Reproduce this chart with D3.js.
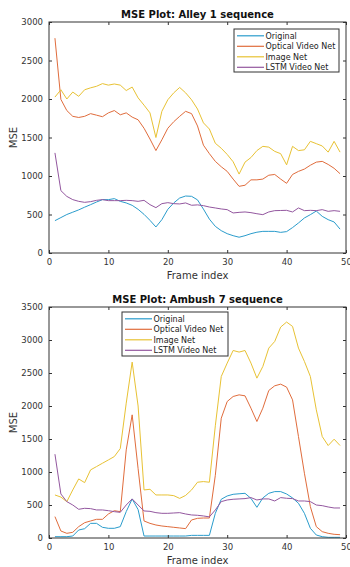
<!DOCTYPE html>
<html>
<head>
<meta charset="utf-8">
<script src="https://cdn.jsdelivr.net/npm/d3@7"></script>
<style>
  body { margin: 0; background: #fff; }
  svg { display: block; font-family: "DejaVu Sans", sans-serif; }
</style>
</head>
<body>
<div id="chart"></div>
<script>
var seriesNames = ['Original', 'Optical Video Net', 'Image Net', 'LSTM Video Net'];
var seriesColors = ['#2a9ccc', '#e06c3c', '#e8c234', '#93579f'];
var xTicks = [0, 10, 20, 30, 40, 50];

// Alley 1 sequence, frames 1..49
var alleyOriginal = [420, 460, 500, 530, 560, 595, 628, 662, 693, 693, 706, 671, 650, 619, 567, 502, 424, 338, 433, 567, 650, 714, 740, 736, 690, 570, 440, 346, 290, 251, 225, 205, 225, 251, 270, 281, 281, 281, 268, 278, 330, 390, 455, 498, 545, 476, 433, 403, 310];
var alleyOptical = [2790, 1995, 1850, 1775, 1760, 1775, 1810, 1790, 1770, 1820, 1850, 1795, 1820, 1765, 1730, 1620, 1480, 1330, 1470, 1620, 1705, 1775, 1840, 1810, 1650, 1400, 1290, 1190, 1120, 1060, 960, 866, 880, 950, 950, 960, 1010, 1020, 960, 905, 1020, 1060, 1090, 1140, 1180, 1190, 1150, 1100, 1030];
var alleyImage = [2025, 2120, 2000, 2090, 2035, 2120, 2145, 2165, 2200, 2180, 2195, 2180, 2110, 2155, 2015, 1920, 1820, 1500, 1840, 1990, 2080, 2150, 2080, 1990, 1870, 1690, 1610, 1425, 1360, 1280, 1185, 1025, 1180, 1240, 1330, 1385, 1375, 1320, 1290, 1145, 1385, 1330, 1340, 1450, 1420, 1390, 1310, 1450, 1310];
var alleyLstm = [1300, 810, 735, 693, 671, 658, 667, 684, 693, 680, 680, 680, 684, 680, 671, 684, 628, 589, 641, 654, 641, 637, 650, 620, 625, 615, 597, 585, 572, 563, 520, 528, 533, 524, 510, 498, 533, 550, 552, 554, 533, 585, 550, 554, 550, 563, 541, 550, 541];
var alleyYTicks = [0, 500, 1000, 1500, 2000, 2500, 3000];

// Ambush 7 sequence, frames 1..49
var ambushOriginal = [20, 20, 20, 30, 121, 141, 222, 222, 162, 147, 147, 172, 400, 592, 430, 30, 30, 30, 30, 30, 30, 30, 30, 40, 40, 40, 40, 374, 587, 637, 662, 670, 677, 600, 465, 607, 677, 703, 703, 667, 607, 526, 374, 147, 45, 20, 10, 10, 10];
var ambushOptical = [324, 106, 71, 86, 172, 232, 258, 283, 283, 364, 414, 399, 1335, 1866, 1050, 258, 222, 197, 182, 172, 162, 152, 142, 273, 298, 303, 303, 950, 1815, 2068, 2144, 2169, 2154, 1967, 1765, 1967, 2235, 2306, 2331, 2286, 2093, 1537, 981, 475, 172, 96, 71, 56, 50];
var ambushImage = [652, 620, 551, 728, 895, 839, 1032, 1082, 1133, 1183, 1234, 1355, 2043, 2665, 2000, 728, 738, 652, 652, 652, 642, 600, 645, 728, 845, 855, 845, 1700, 2447, 2650, 2841, 2817, 2841, 2650, 2422, 2599, 2877, 2978, 3196, 3272, 3206, 2877, 2675, 2447, 1942, 1537, 1401, 1497, 1401];
var ambushLstm = [1270, 667, 551, 500, 435, 450, 445, 425, 425, 414, 399, 389, 500, 592, 500, 410, 404, 384, 374, 374, 379, 384, 364, 349, 344, 334, 320, 425, 551, 576, 587, 592, 597, 612, 576, 592, 592, 561, 612, 602, 597, 561, 561, 551, 500, 490, 470, 455, 455];
var ambushYTicks = [0, 500, 1000, 1500, 2000, 2500, 3000, 3500];

var axisColor = '#333';

var plot1 = {
  title: 'MSE Plot: Alley 1 sequence',
  series: [alleyOriginal, alleyOptical, alleyImage, alleyLstm],
  yTicks: alleyYTicks,
  yMax: 3000,
  top: 22,
  bottom: 253,
  legend: { x: 234, y: 29, w: 105, h: 43 }
};

var plot2 = {
  title: 'MSE Plot: Ambush 7 sequence',
  series: [ambushOriginal, ambushOptical, ambushImage, ambushLstm],
  yTicks: ambushYTicks,
  yMax: 3500,
  top: 307,
  bottom: 538,
  legend: { x: 122, y: 312, w: 106, h: 44 }
};

var svg = d3.select('#chart').append('svg')
  .attr('width', 350)
  .attr('height', 567);

var left = 49, right = 346;

var MsePlot = function(config) {
  var g = svg.append('g');

  var x = d3.scaleLinear().domain([0, 50]).range([left, right]);
  var y = d3.scaleLinear().domain([0, config.yMax]).range([config.bottom, config.top]);

  var line = d3.line()
    .x(function(d, i) { return x(i + 1); })
    .y(function(d) { return y(d); });

  config.series.forEach(function(values, k) {
    g.append('path')
      .attr('d', line(values))
      .attr('fill', 'none')
      .attr('stroke', seriesColors[k])
      .attr('stroke-width', 1)
      .attr('stroke-linejoin', 'round');
  });

  // axes, MATLAB style: ticks inside on all four sides
  var styleAxis = function(sel, labels) {
    sel.select('.domain').remove();
    sel.selectAll('line').attr('stroke', axisColor);
    sel.selectAll('text')
      .attr('fill', labels ? axisColor : 'none')
      .style('font-size', '8.5px')
      .style('font-family', '"DejaVu Sans", sans-serif');
  };

  var fmt = d3.format('d');

  g.append('g')
    .attr('transform', 'translate(0,' + config.bottom + ')')
    .call(d3.axisBottom(x).tickValues(xTicks).tickFormat(fmt).tickSizeInner(-3).tickSizeOuter(0).tickPadding(6))
    .call(styleAxis, true);

  g.append('g')
    .attr('transform', 'translate(0,' + config.top + ')')
    .call(d3.axisTop(x).tickValues(xTicks).tickSizeInner(-3).tickSizeOuter(0).tickFormat(''))
    .call(styleAxis, false);

  g.append('g')
    .attr('transform', 'translate(' + left + ',0)')
    .call(d3.axisLeft(y).tickValues(config.yTicks).tickFormat(fmt).tickSizeInner(-3).tickSizeOuter(0).tickPadding(6))
    .call(styleAxis, true);

  g.append('g')
    .attr('transform', 'translate(' + right + ',0)')
    .call(d3.axisRight(y).tickValues(config.yTicks).tickSizeInner(-3).tickSizeOuter(0).tickFormat(''))
    .call(styleAxis, false);

  g.append('rect')
    .attr('x', left)
    .attr('y', config.top)
    .attr('width', right - left)
    .attr('height', config.bottom - config.top)
    .attr('fill', 'none')
    .attr('stroke', axisColor)
    .attr('stroke-width', 1);

  g.append('text')
    .attr('x', (left + right) / 2)
    .attr('y', config.top - 4.5)
    .attr('text-anchor', 'middle')
    .attr('font-size', '10px')
    .attr('font-weight', 'bold')
    .attr('fill', '#111')
    .text(config.title);

  g.append('text')
    .attr('x', (left + right) / 2)
    .attr('y', config.bottom + 26)
    .attr('text-anchor', 'middle')
    .attr('font-size', '10px')
    .attr('fill', axisColor)
    .text('Frame index');

  g.append('text')
    .attr('transform', 'translate(17,' + (config.top + config.bottom) / 2 + ')rotate(-90)')
    .attr('text-anchor', 'middle')
    .attr('font-size', '10px')
    .attr('fill', axisColor)
    .text('MSE');

  // legend
  var lg = config.legend;
  var legend = g.append('g').attr('transform', 'translate(' + lg.x + ',' + lg.y + ')');
  legend.append('rect')
    .attr('width', lg.w)
    .attr('height', lg.h)
    .attr('fill', '#fff')
    .attr('stroke', axisColor)
    .attr('stroke-width', 1);

  seriesNames.forEach(function(name, k) {
    var ry = 6.8 + k * 10.5;
    legend.append('line')
      .attr('x1', 3)
      .attr('x2', 30)
      .attr('y1', ry)
      .attr('y2', ry)
      .attr('stroke', seriesColors[k])
      .attr('stroke-width', 1.2);
    legend.append('text')
      .attr('x', 31.5)
      .attr('y', ry + 3)
      .attr('font-size', '8px')
      .attr('fill', '#222')
      .text(name);
  });
};

[plot1, plot2].map(function(config) {
  new MsePlot(config);
});
</script>
</body>
</html>
